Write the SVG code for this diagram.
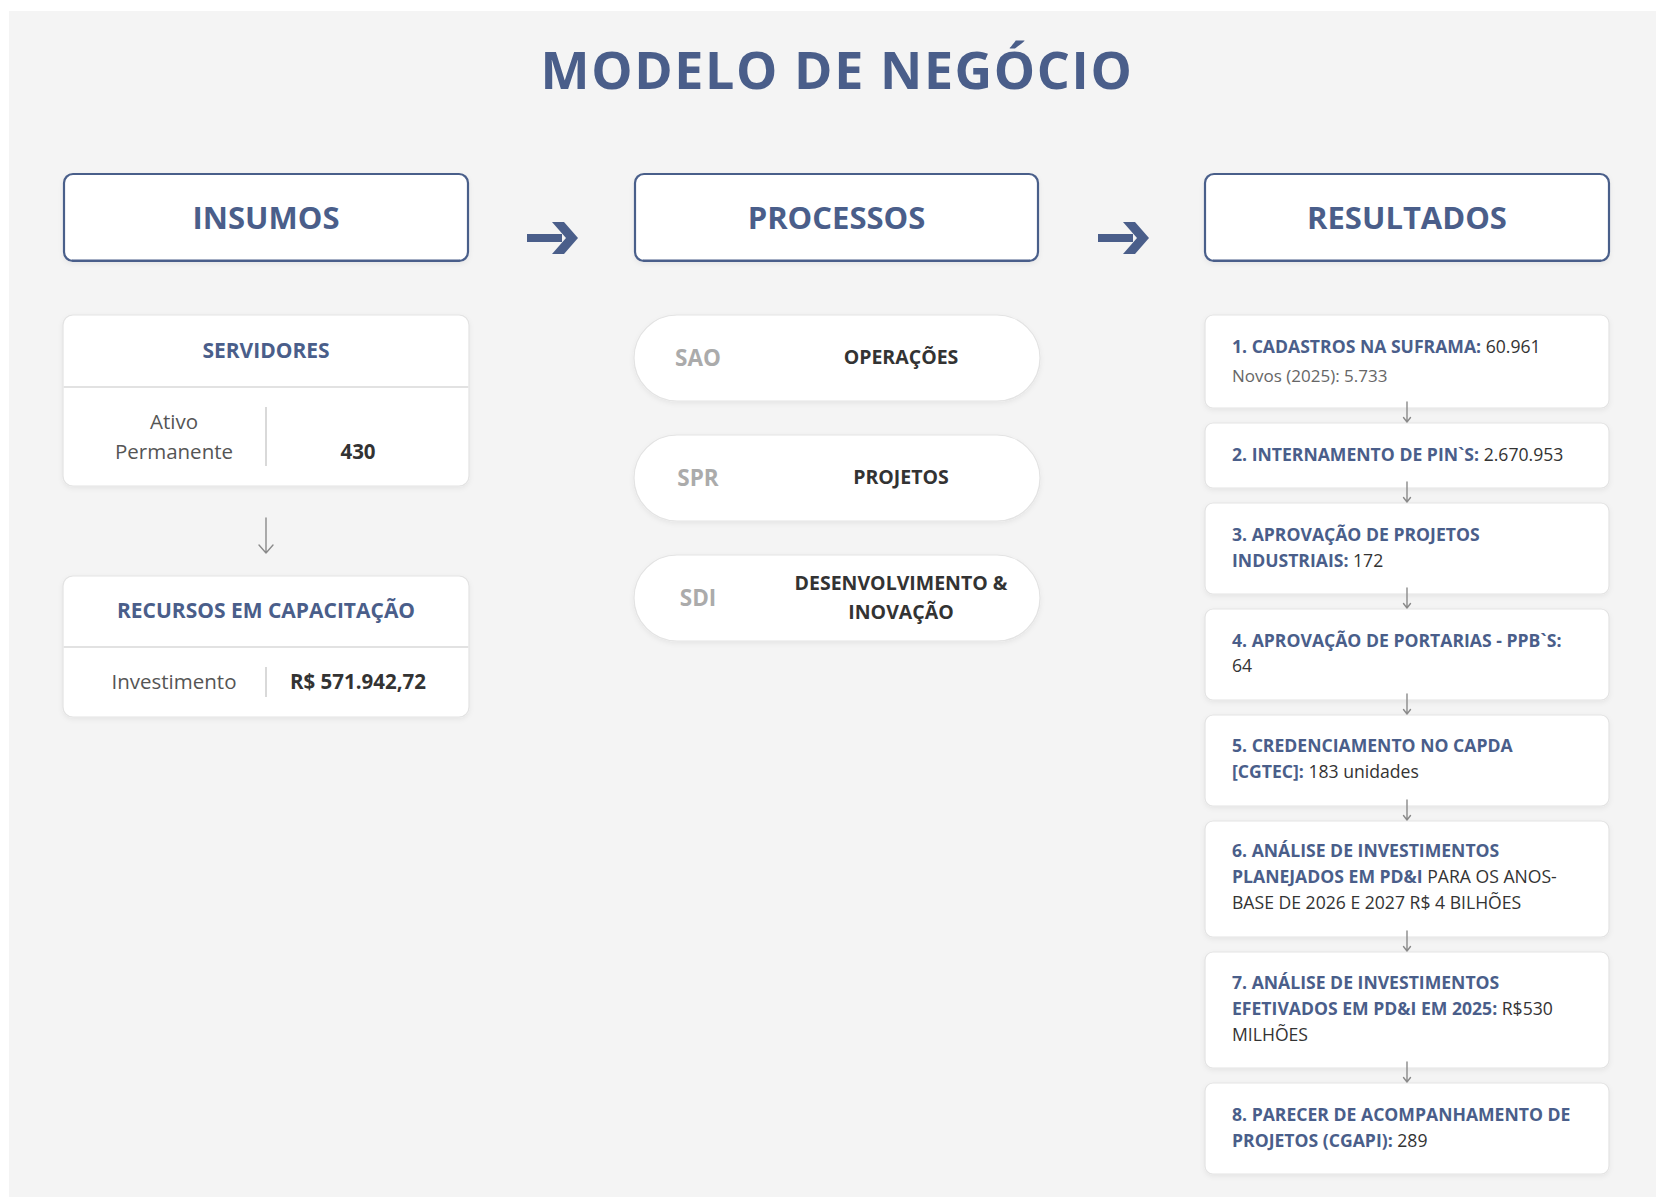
<svg xmlns="http://www.w3.org/2000/svg" width="1656" height="1197" viewBox="0 0 1656 1197">
<defs>
<style>
text{font-family:"Open Sans","Noto Sans","Liberation Sans",sans-serif;}
.title{font-size:52px;font-weight:700;fill:#4a5e8a;letter-spacing:1.6px;}
.hbox{fill:#fff;stroke:#4a5e8a;stroke-width:2.2;}
.htxt{font-size:31px;font-weight:700;fill:#4a5e8a;text-anchor:middle;}
.card{fill:#fff;stroke:#e3e3e3;stroke-width:1.2;}
.ctitle{font-size:21px;font-weight:700;fill:#4a5e8a;text-anchor:middle;}
.sep{stroke:#e2e2e2;stroke-width:2;}
.div{stroke:#d0d0d0;stroke-width:1.6;}
.lbl{font-size:20.5px;fill:#555;text-anchor:middle;}
.val{font-size:20.5px;font-weight:700;fill:#333;text-anchor:middle;}
.pill{fill:#fff;stroke:#e3e3e3;stroke-width:1.2;}
.code{font-size:22.5px;font-weight:700;fill:#ababab;text-anchor:middle;}
.ptxt{font-size:19.5px;font-weight:700;fill:#333;text-anchor:middle;}
.rtxt{font-size:17.6px;fill:#333;}
.b{font-weight:700;fill:#4a5e8a;}
.sub{font-size:17px;fill:#666;}
.conn{stroke:#8a8a8a;fill:none;stroke-width:1.4;stroke-linecap:round;stroke-linejoin:round;}
.big{fill:#4a5e8a;}
</style>
<filter id="sh" x="-10%" y="-20%" width="120%" height="150%">
<feDropShadow dx="0" dy="2" stdDeviation="2.5" flood-color="#000" flood-opacity="0.06"/>
</filter>
</defs>
<rect x="0" y="0" width="1656" height="1197" fill="#ffffff"/>
<rect x="9" y="11" width="1647" height="1186" fill="#f4f4f4"/>
<text id="title" class="title" x="837" y="89" text-anchor="middle">MODELO DE NEGÓCIO</text>

<g id="hdr-insumos">
<rect class="hbox" x="64" y="174" width="404" height="87" rx="9" filter="url(#sh)"/>
<line x1="72" y1="260.5" x2="460" y2="260.5" stroke="#4a5e8a" stroke-width="2"/>
<text class="htxt" x="266" y="229">INSUMOS</text>
</g>
<g id="hdr-processos">
<rect class="hbox" x="635" y="174" width="403" height="87" rx="9" filter="url(#sh)"/>
<line x1="643" y1="260.5" x2="1030" y2="260.5" stroke="#4a5e8a" stroke-width="2"/>
<text class="htxt" x="836.5" y="229">PROCESSOS</text>
</g>
<g id="hdr-resultados">
<rect class="hbox" x="1205" y="174" width="404" height="87" rx="9" filter="url(#sh)"/>
<line x1="1213" y1="260.5" x2="1601" y2="260.5" stroke="#4a5e8a" stroke-width="2"/>
<text class="htxt" x="1407" y="229">RESULTADOS</text>
</g>

<g id="servidores">
<rect class="card" x="63" y="315" width="406" height="171" rx="10" filter="url(#sh)"/>
<line class="sep" x1="63.6" y1="387" x2="468.4" y2="387"/>
<text class="ctitle" x="266" y="358">SERVIDORES</text>
<line class="div" x1="266" y1="407" x2="266" y2="466"/>
<text class="lbl" x="174" y="429">Ativo</text>
<text class="lbl" x="174" y="459">Permanente</text>
<text class="val" x="358" y="459">430</text>
</g>
<g id="recursos">
<rect class="card" x="63" y="576" width="406" height="141" rx="10" filter="url(#sh)"/>
<line class="sep" x1="63.6" y1="647" x2="468.4" y2="647"/>
<text class="ctitle" x="266" y="618">RECURSOS EM CAPACITAÇÃO</text>
<line class="div" x1="266" y1="667" x2="266" y2="697"/>
<text class="lbl" x="174" y="689">Investimento</text>
<text class="val" x="358" y="689">R$ 571.942,72</text>
</g>

<g id="sao">
<rect class="pill" x="634" y="315" width="406" height="86" rx="43" filter="url(#sh)"/>
<text class="code" x="698" y="366">SAO</text>
<text class="ptxt" x="901" y="364">OPERAÇÕES</text>
</g>
<g id="spr">
<rect class="pill" x="634" y="435" width="406" height="86" rx="43" filter="url(#sh)"/>
<text class="code" x="698" y="486">SPR</text>
<text class="ptxt" x="901" y="484">PROJETOS</text>
</g>
<g id="sdi">
<rect class="pill" x="634" y="555" width="406" height="86" rx="43" filter="url(#sh)"/>
<text class="code" x="698" y="606">SDI</text>
<text class="ptxt" x="901" y="590">DESENVOLVIMENTO &amp;</text>
<text class="ptxt" x="901" y="619">INOVAÇÃO</text>
</g>

<g id="r1">
<rect class="card" x="1205" y="315" width="404" height="93" rx="8" filter="url(#sh)"/>
<text class="rtxt" x="1232" y="353"><tspan class="b">1. CADASTROS NA SUFRAMA:</tspan> 60.961</text>
<text class="rtxt sub" x="1232" y="382">Novos (2025): 5.733</text>
</g>
<g id="r2">
<rect class="card" x="1205" y="423" width="404" height="65" rx="8" filter="url(#sh)"/>
<text class="rtxt" x="1232" y="461"><tspan class="b">2. INTERNAMENTO DE PIN`S:</tspan> 2.670.953</text>
</g>
<g id="r3">
<rect class="card" x="1205" y="503" width="404" height="91" rx="8" filter="url(#sh)"/>
<text class="rtxt" x="1232" y="541"><tspan class="b">3. APROVAÇÃO DE PROJETOS</tspan></text>
<text class="rtxt" x="1232" y="567"><tspan class="b">INDUSTRIAIS:</tspan> 172</text>
</g>
<g id="r4">
<rect class="card" x="1205" y="609" width="404" height="91" rx="8" filter="url(#sh)"/>
<text class="rtxt" x="1232" y="647"><tspan class="b">4. APROVAÇÃO DE PORTARIAS - PPB`S:</tspan></text>
<text class="rtxt" x="1232" y="672">64</text>
</g>
<g id="r5">
<rect class="card" x="1205" y="715" width="404" height="91" rx="8" filter="url(#sh)"/>
<text class="rtxt" x="1232" y="752"><tspan class="b">5. CREDENCIAMENTO NO CAPDA</tspan></text>
<text class="rtxt" x="1232" y="778"><tspan class="b">[CGTEC]:</tspan> 183 unidades</text>
</g>
<g id="r6">
<rect class="card" x="1205" y="821" width="404" height="116" rx="8" filter="url(#sh)"/>
<text class="rtxt" x="1232" y="857"><tspan class="b">6. ANÁLISE DE INVESTIMENTOS</tspan></text>
<text class="rtxt" x="1232" y="883"><tspan class="b">PLANEJADOS EM PD&amp;I</tspan> PARA OS ANOS-</text>
<text class="rtxt" x="1232" y="909">BASE DE 2026 E 2027 R$ 4 BILHÕES</text>
</g>
<g id="r7">
<rect class="card" x="1205" y="952" width="404" height="116" rx="8" filter="url(#sh)"/>
<text class="rtxt" x="1232" y="989"><tspan class="b">7. ANÁLISE DE INVESTIMENTOS</tspan></text>
<text class="rtxt" x="1232" y="1015"><tspan class="b">EFETIVADOS EM PD&amp;I EM 2025:</tspan> R$530</text>
<text class="rtxt" x="1232" y="1041">MILHÕES</text>
</g>
<g id="r8">
<rect class="card" x="1205" y="1083" width="404" height="91" rx="8" filter="url(#sh)"/>
<text class="rtxt" x="1232" y="1121"><tspan class="b">8. PARECER DE ACOMPANHAMENTO DE</tspan></text>
<text class="rtxt" x="1232" y="1147"><tspan class="b">PROJETOS (CGAPI):</tspan> 289</text>
</g>

<g id="connectors">
<path class="big" d="M527,234 H562 V242 H527 Z M552,222 H564 L578,238 L564,254 H552 L566,238 Z"/>
<path class="big" d="M1098,234 H1133 V242 H1098 Z M1123,222 H1135 L1149,238 L1135,254 H1123 L1137,238 Z"/>
<path class="conn" stroke-width="2" d="M266,518 V553 M259,545 L266,553 L273,545"/>
<path class="conn" d="M1407,402 V422 M1403.5,417.5 L1407,422 L1410.5,417.5"/>
<path class="conn" d="M1407,482 V502 M1403.5,497.5 L1407,502 L1410.5,497.5"/>
<path class="conn" d="M1407,588 V608 M1403.5,603.5 L1407,608 L1410.5,603.5"/>
<path class="conn" d="M1407,694 V714 M1403.5,709.5 L1407,714 L1410.5,709.5"/>
<path class="conn" d="M1407,800 V820 M1403.5,815.5 L1407,820 L1410.5,815.5"/>
<path class="conn" d="M1407,931 V951 M1403.5,946.5 L1407,951 L1410.5,946.5"/>
<path class="conn" d="M1407,1062 V1082 M1403.5,1077.5 L1407,1082 L1410.5,1077.5"/>
</g>
</svg>
